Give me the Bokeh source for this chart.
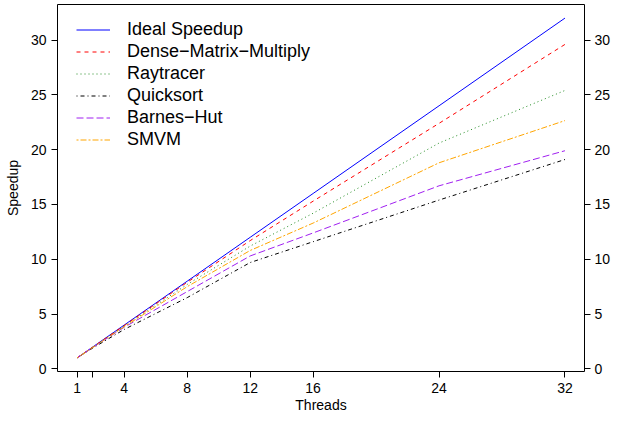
from bokeh.plotting import figure
from bokeh.models import Range1d, LinearAxis, FixedTicker, Legend, LegendItem
from bokeh.embed import file_html
from bokeh.resources import INLINE

# ---- data ----
threads = [1, 2, 4, 8, 12, 16, 24, 32]
ideal_speedup = [1, 2, 4, 8, 12, 16, 24, 32]
dense_matrix_multiply = [1, 1.98, 3.95, 7.9, 11.7, 15.3, 22.4, 29.6]
raytracer = [1, 1.97, 3.9, 7.7, 11.2, 14.2, 20.6, 25.4]
quicksort = [1, 1.9, 3.6, 6.5, 9.7, 11.6, 15.4, 19.1]
barnes_hut = [1, 1.95, 3.8, 7.05, 10.3, 12.4, 16.7, 19.9]
smvm = [1, 1.96, 3.85, 7.5, 10.8, 13.3, 18.8, 22.65]

series_labels = ["Ideal Speedup", "Dense\u2212Matrix\u2212Multiply", "Raytracer",
                 "Quicksort", "Barnes\u2212Hut", "SMVM"]
x_ticks = [1, 2, 4, 8, 12, 16, 24, 32]
y_ticks = [0, 5, 10, 15, 20, 25, 30]
x_label = "Threads"
y_label = "Speedup"

series_values = [ideal_speedup, dense_matrix_multiply, raytracer, quicksort, barnes_hut, smvm]
colors = ["#0000FF", "#FF0000", "#228B22", "#000000", "#A020F0", "#FFA500"]
dashes = ["solid", "4 4", "1 3", "1 3 4 3", "7 3", "2 2 6 2"]

FONT = "Liberation Sans"

lo = min(min(threads), min(min(s) for s in series_values))
hi = max(max(threads), max(max(s) for s in series_values))
pad = 0.04 * (hi - lo)

p = figure(width=613, height=415, output_backend="svg", toolbar_location=None,
           x_range=Range1d(lo - pad, hi + pad), y_range=Range1d(lo - pad, hi + pad),
           min_border_left=57, min_border_right=27, min_border_top=4, min_border_bottom=42)
p.background_fill_color = "white"
p.border_fill_color = "white"
p.grid.visible = False
p.outline_line_color = "black"
p.outline_line_width = 1
p.outline_line_alpha = 1.0

right_axis = LinearAxis()
p.add_layout(right_axis, "right")

for ax in [p.xaxis[0], p.yaxis[0], right_axis]:
    ax.axis_line_color = None
    ax.major_tick_out = 6
    ax.major_tick_in = 0
    ax.minor_tick_out = 0
    ax.minor_tick_in = 0
    ax.major_tick_line_color = "black"
    ax.major_label_text_font = FONT
    ax.major_label_text_font_size = "14px"
    ax.major_label_text_color = "black"
    ax.axis_label_text_font = FONT
    ax.axis_label_text_font_size = "14px"
    ax.axis_label_text_font_style = "normal"
    ax.axis_label_text_color = "black"

p.xaxis[0].ticker = FixedTicker(ticks=x_ticks)
p.xaxis[0].major_label_overrides = {2: ""}
p.xaxis[0].major_label_standoff = 5
p.xaxis[0].axis_label = x_label
p.xaxis[0].axis_label_standoff = 1

p.yaxis[0].ticker = FixedTicker(ticks=y_ticks)
p.yaxis[0].major_label_standoff = 5
p.yaxis[0].axis_label = y_label
p.yaxis[0].axis_label_standoff = 7

right_axis.ticker = FixedTicker(ticks=y_ticks)
right_axis.major_label_standoff = 4
right_axis.major_label_orientation = "horizontal"
p.yaxis[0].major_label_orientation = "horizontal"

items = []
for lab, vals, c, d in zip(series_labels, series_values, colors, dashes):
    r = p.line(threads, vals, line_color=c, line_width=1, line_dash=d)
    items.append(LegendItem(label=lab, renderers=[r]))

legend = Legend(items=items, location=(19, 221))
legend.border_line_color = None
legend.background_fill_alpha = 0
legend.padding = 0
legend.margin = 0
legend.spacing = 1
legend.glyph_width = 34
legend.glyph_height = 21
legend.label_height = 21
legend.label_standoff = 17
legend.label_text_font = FONT
legend.label_text_font_size = "18px"
legend.label_text_color = "black"
p.add_layout(legend, "center")

open("out.html", "w").write(file_html(p, INLINE))
